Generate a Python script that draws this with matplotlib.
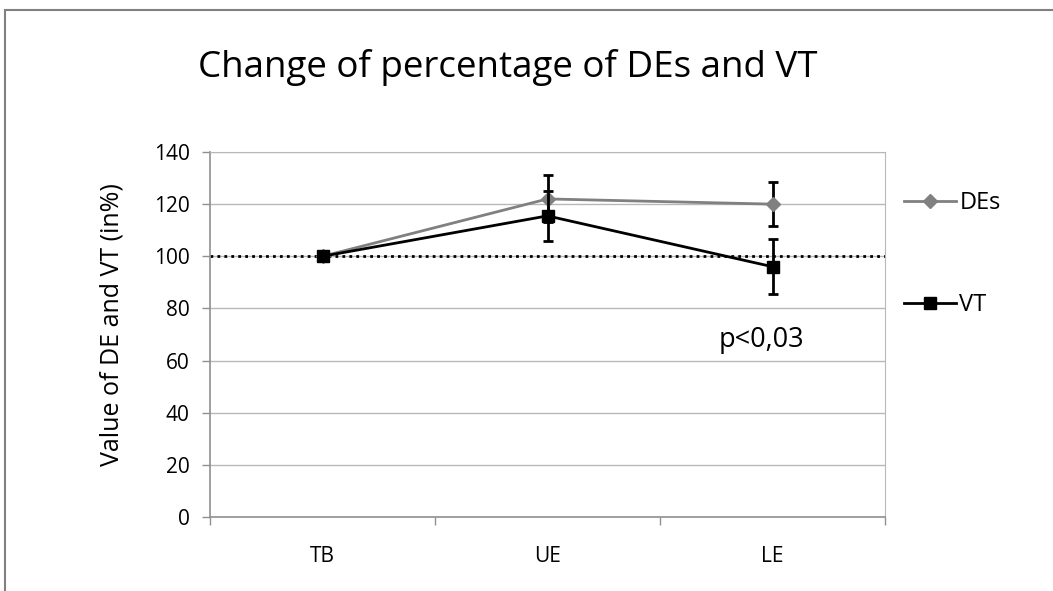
import numpy as np
import matplotlib.pyplot as plt
from matplotlib.patches import Rectangle

plt.rcParams['font.family'] = ['Open Sans', 'DejaVu Sans']

categories = ['TB', 'UE', 'LE']
des_values = [100, 122, 120]
des_errors = [0, 9, 8.5]
vt_values = [100, 115.5, 96]
vt_errors = [0, 9.5, 10.5]

fig = plt.figure(figsize=(10.53, 5.91), dpi=100)
ax = fig.add_axes([210 / 1053, 1 - 517 / 591, 675 / 1053, 365 / 591])

x = np.arange(len(categories))

# reference line at 100%
ax.axhline(100, color='black', linestyle=(0, (1, 1.5)), linewidth=2, zorder=2)

ax.errorbar(x, des_values, yerr=des_errors, color='#808080', ecolor='black',
            elinewidth=2, capsize=3.8, capthick=2, marker='D', markersize=7,
            linewidth=2, label='DEs', zorder=4)
ax.errorbar(x, vt_values, yerr=vt_errors, color='black', ecolor='black',
            elinewidth=2, capsize=3.8, capthick=2, marker='s', markersize=8,
            linewidth=2, label='VT', zorder=5)

ax.set_xlim(-0.5, len(categories) - 0.5)
ax.set_ylim(0, 140)
ax.set_yticks(np.arange(0, 141, 20))
ax.yaxis.grid(True, color='#b8b8b8', linewidth=1)
ax.set_axisbelow(True)

ax.set_xticks(x)
ax.set_xticklabels(categories)
ax.set_xticks(np.arange(-0.5, len(categories), 1), minor=True)
ax.tick_params(axis='x', which='major', length=0, pad=21, labelsize=15)
ax.tick_params(axis='x', which='minor', length=6, color='#909090', width=1)
ax.tick_params(axis='y', length=5.5, color='#909090', width=1, labelsize=15, pad=9)

for side in ['top', 'right']:
    ax.spines[side].set_color('#b8b8b8')
for side in ['left', 'bottom']:
    ax.spines[side].set_color('#909090')
    ax.spines[side].set_linewidth(1.2)

ax.set_ylabel('Value of DE and VT (in%)', fontsize=18)
ax.yaxis.set_label_coords(-0.127, 0.526)

ax.text(1.95, 68, 'p<0,03', fontsize=19.5, ha='center', va='center')

handles, labels = ax.get_legend_handles_labels()
handles = [h[0] for h in handles]
leg = ax.legend(handles, labels, loc='upper left', bbox_to_anchor=(1.0, 0.945),
                frameon=False, fontsize=17, labelspacing=3.3, handlelength=2.2,
                handletextpad=0.15, borderaxespad=0.4)

fig.text(0.482, 1 - 68 / 591, 'Change of percentage of DEs and VT',
         fontsize=26.5, ha='center', va='center')

fig.patches.append(Rectangle((5 / 1053, -0.1), 1.2, 1 - 10 / 591 + 0.1,
                             transform=fig.transFigure, fill=False,
                             edgecolor='#808080', linewidth=1.5))

fig.savefig('out.png', dpi=100)
